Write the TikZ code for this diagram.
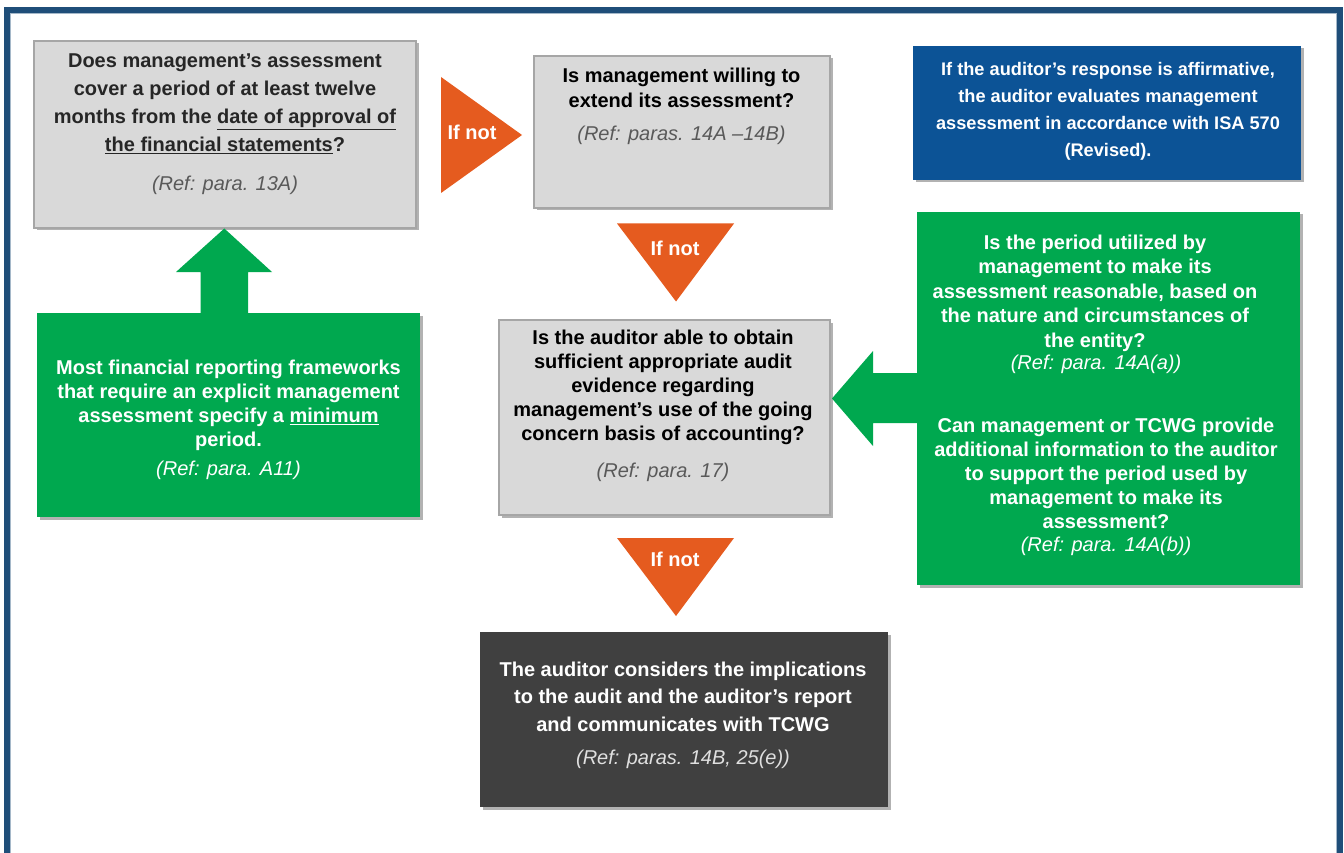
\documentclass[tikz,border=0pt]{standalone}
\usepackage{fontspec}
\setmainfont{Liberation Sans}
\usetikzlibrary{shadows}
\definecolor{frameblue}{HTML}{1F4E79}
\definecolor{boxgray}{HTML}{D9D9D9}
\definecolor{boxedge}{HTML}{A6A6A6}
\definecolor{darktext}{HTML}{262626}
\definecolor{reftext}{HTML}{595959}
\definecolor{infoblue}{HTML}{0C5396}
\definecolor{okgreen}{HTML}{00A84F}
\definecolor{ifnot}{HTML}{E55B1F}
\definecolor{darkbox}{HTML}{404040}
\begin{document}
\begin{tikzpicture}[x=1pt,y=-1pt,
  shade/.style={drop shadow={shadow xshift=2.5pt,shadow yshift=-2.5pt,fill=black,opacity=0.3}},
  graybox/.style={draw=boxedge,fill=boxgray,line width=1.2pt,shade,inner sep=0pt},
  bluebox/.style={fill=infoblue,shade,inner sep=0pt},
  greenbox/.style={fill=okgreen,shade,inner sep=0pt},
  darkbox/.style={fill=darkbox,shade,inner sep=0pt},
  txt/.style={align=center,inner sep=0pt,text=darktext},
  wtxt/.style={align=center,inner sep=0pt,text=white},
  reftxt/.style={inner sep=0pt,text=reftext,font=\itshape\fontsize{20}{24}\selectfont},
  wreftxt/.style={inner sep=0pt,text=white,font=\itshape\fontsize{20}{24}\selectfont},
  ifnottxt/.style={inner sep=0pt,text=white,font=\bfseries\fontsize{20}{24}\selectfont},
  notefill/.style={fill=ifnot},
  greenarrow/.style={fill=okgreen}
]
\useasboundingbox (0,0) rectangle (1344,853);
% outer frame
\draw[frameblue,line width=6pt] (7,10.5) rectangle (1340,880);
\draw[frameblue!40,line width=1pt] (10.5,14) rectangle (1336.5,880);
\draw[frameblue,line width=6pt] (7,10.5) rectangle (1340,880);

% boxes
\node[graybox,minimum width=382pt,minimum height=187pt] (q1) at (225,134.5) {};
\node[graybox,minimum width=296pt,minimum height=152pt] (q2) at (682,132) {};
\node[bluebox,minimum width=388pt,minimum height=134pt] (info) at (1107,113) {};
\node[graybox,minimum width=331pt,minimum height=195pt] (q3) at (664.5,417.5) {};
\node[greenbox,minimum width=383pt,minimum height=373pt] (gr) at (1108.5,398.5) {};
\node[greenbox,minimum width=383pt,minimum height=204pt] (gl) at (228.5,415) {};
\node[darkbox,minimum width=408pt,minimum height=175pt] (res) at (684,719.5) {};

% "If not" triangles
\fill[notefill] (441,77) -- (522,135) -- (441,193) -- cycle;
\node[ifnottxt] (n1) at (472,132) {If not};
\fill[notefill] (617,223.5) -- (734,223.5) -- (676,301.5) -- cycle;
\node[ifnottxt] (n2) at (675,248) {If not};
\fill[notefill] (617,538) -- (734,538) -- (676,616) -- cycle;
\node[ifnottxt] (n3) at (675,559) {If not};

% green block arrows
\fill[greenarrow] (gr.west |- 0,373) -- (873,373) -- (873,351) -- (832,398.5)
  -- (873,446) -- (873,423) -- (gr.west |- 0,423) -- cycle;
\fill[greenarrow] (200.5,313) -- (200.5,272) -- (176,272) -- (224.3,228.5)
  -- (272,272) -- (248,272) -- (248,313) -- cycle;

% texts
\node[txt,font=\bfseries\fontsize{20}{28}\selectfont] (q1t) at (225,104)
  {Does management’s assessment\\cover a period of at least twelve\\months from the \underline{date of approval of}\\\underline{the financial statements}?};
\node[reftxt] (q1r) at (225,185) {(Ref: para. 13A)};

\node[txt,text=black,font=\bfseries\fontsize{20}{25}\selectfont] (q2t) at (681.5,87.5)
  {Is management willing to\\extend its assessment?};
\node[reftxt] (q2r) at (681.5,135) {(Ref: paras. 14A –14B)};

\node[wtxt,font=\bfseries\fontsize{18.2}{27}\selectfont] (infot) at (1108,111)
  {If the auditor’s response is affirmative,\\the auditor evaluates management\\assessment in accordance with ISA 570\\(Revised).};

\node[txt,text=black,font=\bfseries\fontsize{20}{24}\selectfont] (q3t) at (663,387)
  {Is the auditor able to obtain\\sufficient appropriate audit\\evidence regarding\\management’s use of the going\\concern basis of accounting?};
\node[reftxt] (q3r) at (663,472) {(Ref: para. 17)};

\node[wtxt,font=\bfseries\fontsize{20}{24.5}\selectfont] (grt1) at (1095,293)
  {Is the period utilized by\\management to make its\\assessment reasonable, based on\\the nature and circumstances of\\the entity?};
\node[wreftxt] (grr1) at (1096,364) {(Ref: para. 14A(a))};
\node[wtxt,font=\bfseries\fontsize{20}{24}\selectfont] (grt2) at (1106,473)
  {Can management or TCWG provide\\additional information to the auditor\\to support the period used by\\management to make its\\assessment?};
\node[wreftxt] (grr2) at (1106,546) {(Ref: para. 14A(b))};

\node[wtxt,font=\bfseries\fontsize{20}{24}\selectfont] (glt) at (228.5,405)
  {Most financial reporting frameworks\\that require an explicit management\\assessment specify a \underline{minimum}\\period.};
\node[wreftxt] (glr) at (228.5,470) {(Ref: para. A11)};

\node[wtxt,font=\bfseries\fontsize{20}{27.5}\selectfont] (rest) at (683,696.5)
  {The auditor considers the implications\\to the audit and the auditor’s report\\and communicates with TCWG};
\node[wreftxt,text=white!88!black] (resr) at (683,759) {(Ref: paras. 14B, 25(e))};
\end{tikzpicture}
\end{document}
